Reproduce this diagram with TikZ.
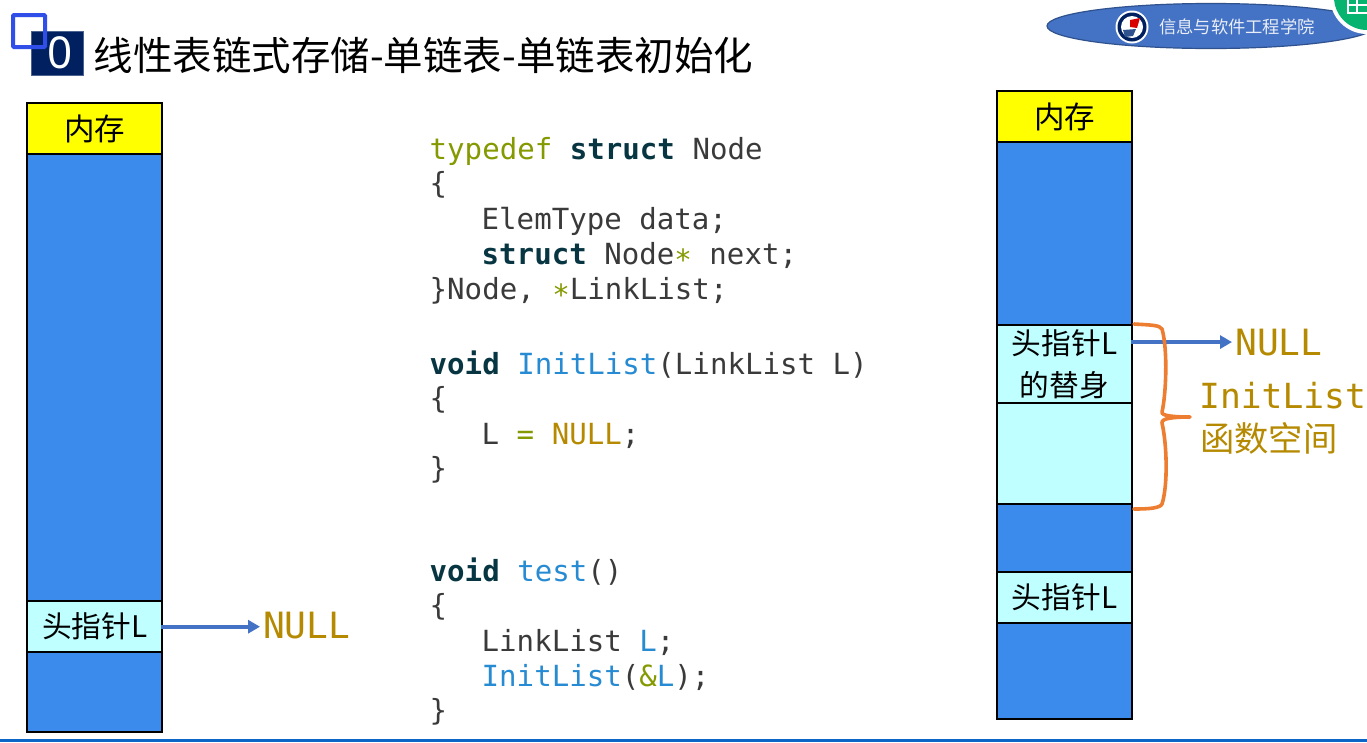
\documentclass[tikz,border=0pt]{standalone}
\usepackage{fontspec}
\usepackage{xcolor}
\usetikzlibrary{arrows.meta}
\setmainfont{Noto Sans}
\setmonofont{DejaVu Sans Mono}
\newfontfamily\cjk{Noto Sans CJK SC}
\definecolor{border}{HTML}{000000}
\definecolor{memblue}{HTML}{3A8BEC}
\definecolor{memyellow}{HTML}{FFFF00}
\definecolor{memcyan}{HTML}{BFFFFF}
\definecolor{navy}{HTML}{002060}
\definecolor{frameblue}{HTML}{2F4FE8}
\definecolor{badge}{HTML}{4472C4}
\definecolor{badgedark}{HTML}{2F528F}
\definecolor{teams}{HTML}{07B46F}
\definecolor{footer}{HTML}{0B66C8}
\definecolor{brace}{HTML}{ED7D31}
\definecolor{gold}{HTML}{B58900}
\definecolor{olive}{HTML}{859900}
\definecolor{kwdark}{HTML}{073642}
\definecolor{fnblue}{HTML}{268BD2}
\definecolor{plain}{HTML}{3A3A3A}
\newcommand{\kw}[1]{{\bfseries\color{kwdark}#1}}
\newcommand{\ol}[1]{{\color{olive}#1}}
\newcommand{\fn}[1]{{\color{fnblue}#1}}
\newcommand{\gd}[1]{{\color{gold}#1}}
\tikzset{
  cell/.style={draw=border, line width=2pt, anchor=north west, inner sep=0pt,
    minimum width=135pt, text=black, align=center, font=\cjk\fontsize{29.7}{42}\selectfont},
  cellB/.style={cell, fill=memblue},
  cellY/.style={cell, fill=memyellow, font=\cjk\fontsize{30.5}{42}\selectfont},
  cellC/.style={cell, fill=memcyan},
  code/.style={anchor=base west, inner sep=0pt, text=plain, font=\ttfamily\fontsize{29.1}{35}\selectfont},
  lab/.style={anchor=base west, inner sep=0pt, text=gold, font=\ttfamily\fontsize{36.2}{40}\selectfont},
  labz/.style={anchor=base west, inner sep=0pt, text=gold, font=\cjk\fontsize{34.3}{40}\selectfont},
  ptr/.style={-{Triangle[length=12pt,width=13pt]}, line width=4pt, draw=badge, shorten >=3pt, shorten <=-2pt}
}
\begin{document}
\begin{tikzpicture}[x=1pt,y=-1pt]
  \useasboundingbox (0,0) rectangle (1367,742);
  \fill[white] (0,0) rectangle (1367,742);
  \fill[footer] (0,739) rectangle (1367,742);

  \node[fill=navy, draw=navy!70, anchor=north west, minimum width=52pt, minimum height=44pt, inner sep=0pt] (numbox) at (30.5,30.5) {};
  \node[text=white, font=\fontsize{44}{46}\selectfont, inner sep=0pt] (num) at (60,53) {0};
  \draw[frameblue, line width=4pt, rounded corners=1pt] (13,15) rectangle (45,47);
  \node[anchor=base west, inner sep=0pt, text=black, font=\cjk\fontsize{39.5}{42}\selectfont] (title) at (93.5,70) {线性表链式存储-单链表-单链表初始化};

  \draw[fill=badge, draw=badgedark, line width=1.2pt] (1211,26) ellipse [x radius=164, y radius=22.5];
  \fill[white] (1132,27) circle (16.5);
  \fill[navy] (1132,27) circle (14.5);
  \fill[white] (1132,27) circle (11);
  \fill[red!85!black] (1130,20) -- (1140,18) -- (1137,28) -- (1130,27) -- cycle;
  \fill[badgedark] (1123,30) -- (1136,29) -- (1133,36) -- (1125,37) -- cycle;
  \node[text=white!88!badge, inner sep=0pt, font=\cjk\fontsize{17.3}{20}\selectfont] (school) at (1237,27) {信息与软件工程学院};
  \fill[white] (1367,-3) circle (37);
  \fill[teams] (1367,-3) circle (33);
  \draw[white, line width=2pt] (1348,-2) rectangle (1372,13) (1348,5) -- (1372,5) (1357,-2) -- (1357,13);

  \node[cellY, minimum height=51pt] (memL) at (26.2,102.2) {内存};
  \node[cellB, minimum height=447pt] (blueLa) at (26.2,153.2) {};
  \node[cellC, minimum height=51pt] (headL) at (26.2,600.2) {头指针L};
  \node[cellB, minimum height=80pt] (blueLb) at (26.2,651.2) {};

  \node[cellY, minimum height=51pt] (memR) at (996,90.2) {内存};
  \node[cellB, minimum height=183pt] (blueRa) at (996,141.2) {};
  \node[cellC, minimum height=78pt] (copyR) at (996,324.2) {头指针L\\的替身};
  \node[cellC, minimum height=101pt] (spaceR) at (996,402.2) {};
  \node[cellB, minimum height=68pt] (blueRb) at (996,503.2) {};
  \node[cellC, minimum height=51pt] (headR) at (996,571.2) {头指针L};
  \node[cellB, minimum height=96pt] (blueRc) at (996,622.2) {};

  \node[lab] (nullL) at (263,638) {NULL};
  \node[lab] (nullR) at (1235,355) {NULL};
  \node[lab, font=\ttfamily\fontsize{34.6}{40}\selectfont] (initlab) at (1199,408) {InitList};
  \node[labz] (spacelab) at (1200,451) {函数空间};

  \draw[ptr] (headL.east) -- (headL.east -| nullL.west);
  \draw[ptr] (copyR.east |- nullR.west) -- (nullR.west);
  \draw[brace, line width=3.6pt, line cap=round, line join=round]
    (1134,324) .. controls (1150,325) and (1160,325) .. (1162,329)
    .. controls (1168,350) and (1166,395) .. (1162,412)
    .. controls (1161,416) and (1175,417) .. (1190,417)
    .. controls (1175,417) and (1161,418) .. (1162,423)
    .. controls (1167,445) and (1168,485) .. (1162,504)
    .. controls (1160,508) and (1150,509) .. (1134,509);

  \node[code] (c1) at (429.5,159) {\ol{typedef} \kw{struct} Node};
  \node[code] (c2) at (429.5,193) {\{};
  \node[code] (c3) at (481.5,229) {ElemType data;};
  \node[code] (c4) at (481.5,264) {\kw{struct} Node\ol{∗} next;};
  \node[code] (c5) at (429.5,299) {\}Node, \ol{∗}LinkList;};
  \node[code] (c6) at (429.5,374) {\kw{void} \fn{InitList}(LinkList L)};
  \node[code] (c7) at (429.5,408) {\{};
  \node[code] (c8) at (481.5,444) {L \ol{=} \gd{NULL};};
  \node[code] (c9) at (429.5,478) {\}};
  \node[code] (c10) at (429.5,581) {\kw{void} \fn{test}()};
  \node[code] (c11) at (429.5,615) {\{};
  \node[code] (c12) at (481.5,651) {LinkList \fn{L};};
  \node[code] (c13) at (481.5,686) {\fn{InitList}(\ol{\&}\fn{L});};
  \node[code] (c14) at (429.5,720) {\}};
\end{tikzpicture}
\end{document}
